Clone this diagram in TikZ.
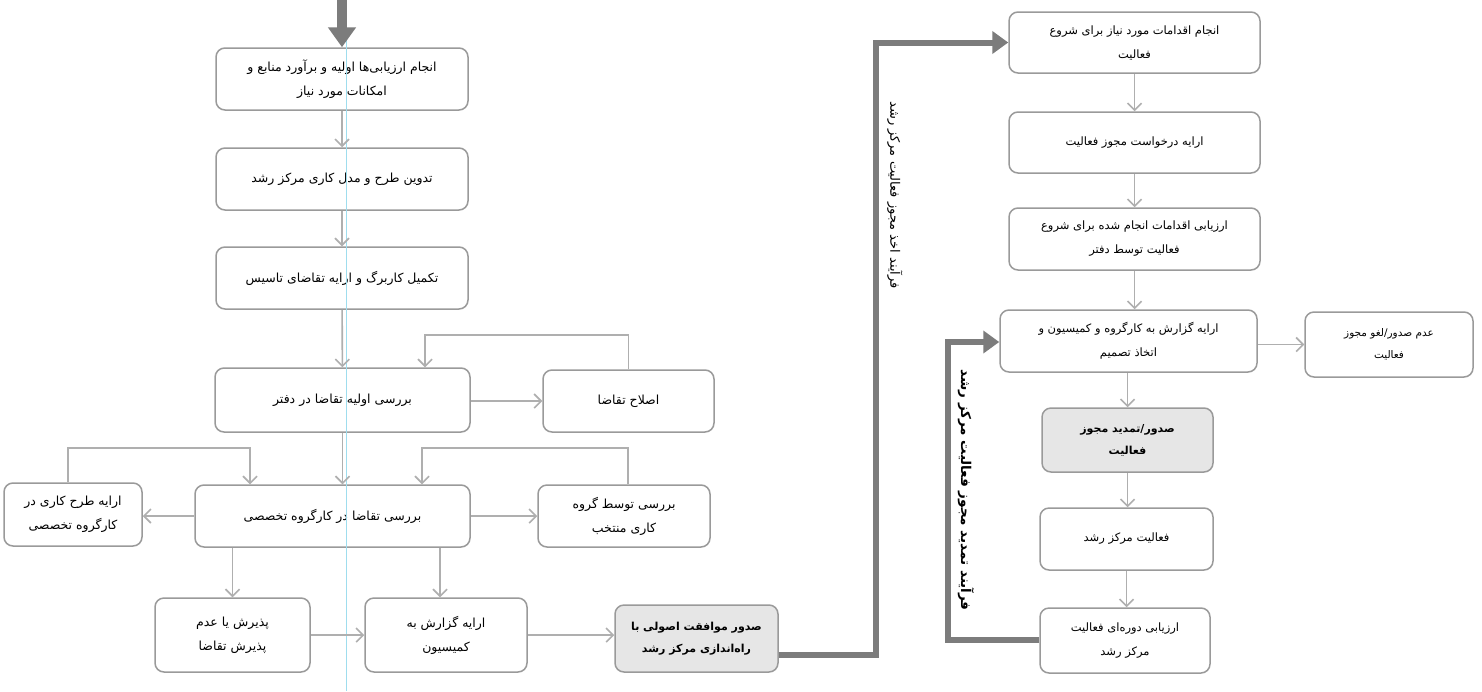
\documentclass[tikz,border=0pt]{standalone}
\usepackage{fontspec}
\newfontfamily\arabicfont[Script=Arabic]{DejaVu Sans}
\TeXXeTstate=1
\usetikzlibrary{arrows.meta}
\newcommand\faR[1]{\beginR #1\endR}
\definecolor{boxgray}{HTML}{9A9A9A}
\definecolor{arrgray}{HTML}{AFAFAF}
\definecolor{thickgray}{HTML}{7C7C7C}
\definecolor{shadegray}{HTML}{E6E6E6}
\definecolor{guidecyan}{HTML}{9FDDEE}
\begin{document}
\begin{tikzpicture}[x=1pt,y=-1pt,
  box/.style={draw=boxgray, line width=1.5pt, rounded corners=9pt, fill=white,
    font=\arabicfont\fontsize{12.5}{24}\selectfont, align=center, inner sep=2pt},
  rbox/.style={box, font=\arabicfont\fontsize{11.5}{24}\selectfont},
  shadebox/.style={box, fill=shadegray, font=\arabicfont\bfseries\fontsize{11}{22}\selectfont},
  arr/.style={draw=arrgray, line width=1.6pt,
    -{Straight Barb[length=7pt,width=14pt,line width=1.6pt]}},
  bigline/.style={draw=thickgray, line width=6pt, line join=miter,
    -{Triangle[length=16pt,width=22pt]}},
  vtext/.style={font=\arabicfont\fontsize{13}{15}\selectfont, inner sep=0pt},
]
\useasboundingbox (0,0) rectangle (1482,691);
\fill[white] (0,0) rectangle (1482,691);

% left column
\node[box, minimum width=252pt, minimum height=62pt] (a1) at (342,79)
  {\faR{انجام ارزیابی‌ها اولیه و  برآورد منابع و}\\\faR{امکانات مورد نیاز}};
\node[box, minimum width=252pt, minimum height=62pt] (a2) at (342,179)
  {\faR{تدوین طرح و مدل کاری مرکز رشد}};
\node[box, minimum width=252pt, minimum height=62pt] (a3) at (342,278)
  {\faR{تکمیل کاربرگ و ارایه تقاضای تاسیس}};
\node[box, minimum width=255pt, minimum height=64pt] (a4) at (342.5,400)
  {\faR{بررسی اولیه تقاضا در دفتر}};
\node[box, minimum width=171pt, minimum height=62pt] (fix) at (628.5,401)
  {\faR{اصلاح تقاضا}};
\node[box, minimum width=275pt, minimum height=62pt] (a5) at (332.5,516)
  {\faR{بررسی تقاضا در کارگروه تخصصی}};
\node[box, minimum width=138pt, minimum height=63pt] (lb) at (73,514.5)
  {\faR{ارایه طرح کاری در}\\\faR{کارگروه تخصصی}};
\node[box, minimum width=172pt, minimum height=62pt] (rb) at (624,516)
  {\faR{بررسی توسط گروه}\\\faR{کاری منتخب}};
\node[box, minimum width=155pt, minimum height=74pt] (pb) at (232.5,635)
  {\faR{پذیرش یا عدم}\\\faR{پذیرش تقاضا}};
\node[box, minimum width=162pt, minimum height=74pt] (kb) at (446,635)
  {\faR{ارایه گزارش به}\\\faR{کمیسیون}};
\node[shadebox, minimum width=163pt, minimum height=67pt] (sb) at (696.5,638.5)
  {\faR{صدور موافقت اصولی با}\\\faR{راه‌اندازی مرکز رشد}};

% right column
\node[rbox, minimum width=251pt, minimum height=61pt] (b1) at (1134.5,42.5)
  {\faR{انجام اقدامات مورد نیاز برای شروع}\\\faR{فعالیت}};
\node[rbox, minimum width=251pt, minimum height=61pt] (b2) at (1134.5,142.5)
  {\faR{ارایه درخواست مجوز فعالیت}};
\node[rbox, minimum width=251pt, minimum height=62pt] (b3) at (1134.5,239)
  {\faR{ارزیابی اقدامات انجام شده برای شروع}\\\faR{فعالیت توسط دفتر}};
\node[rbox, minimum width=257pt, minimum height=62pt] (b4) at (1128.5,341)
  {\faR{ارایه گزارش به کارگروه و کمیسیون و}\\\faR{اتخاذ تصمیم}};
\node[rbox, minimum width=168pt, minimum height=65pt, font=\arabicfont\fontsize{10.5}{22}\selectfont] (b5) at (1389,344.5)
  {\faR{عدم صدور/لغو مجوز}\\\faR{فعالیت}};
\node[shadebox, minimum width=171pt, minimum height=64pt] (b6) at (1127.5,440)
  {\faR{صدور/تمدید مجوز}\\\faR{فعالیت}};
\node[rbox, minimum width=173pt, minimum height=62pt] (b7) at (1126.5,539)
  {\faR{فعالیت مرکز رشد}};
\node[rbox, minimum width=170pt, minimum height=65pt] (b8) at (1125,640.5)
  {\faR{ارزیابی دوره‌ای فعالیت}\\\faR{مرکز رشد}};

% vertical labels
\node[vtext, rotate=-90] (v1) at (895,195) {\faR{فرآیند اخذ مجوز فعالیت مرکز رشد}};
\node[vtext, rotate=-90, font=\arabicfont\bfseries\fontsize{13.5}{15}\selectfont] (v2) at (966,490)
  {\faR{فرآیند تمدید مجوز فعالیت مرکز رشد}};

% coordinates
\coordinate (t0) at (342,0);
\coordinate (f1) at (628.5,335);
\coordinate (f2) at (425,335);
\coordinate (l1) at (68,448);
\coordinate (l2) at (250,448);
\coordinate (r1) at (628,448);
\coordinate (r2) at (422,448);
\coordinate (kx) at (440,0);
\coordinate (c1) at (876,655);
\coordinate (c2) at (876,42.5);
\coordinate (d1) at (948,640);
\coordinate (d2) at (948,342);
\coordinate (g0) at (346,0);
\coordinate (g1) at (346,691);

% guide line
\draw[guidecyan, line width=0.8pt] (g0) -- (g1);

% connectors left
\draw[draw=thickgray, line width=10pt, -{Triangle[length=20pt,width=27pt]}] (t0) -- (a1.north);
\draw[arr] (a1) -- (a2);
\draw[arr] (a2) -- (a3);
\draw[arr] (a3) -- (a4);
\draw[arr] (a4.east |- fix.west) -- (fix.west);
\draw[arr] (fix.north) -- (f1) -- (f2) -- (f2 |- a4.north);
\draw[arr] (a4.south) -- (a4.south |- a5.north);
\draw[arr] (a5.west) -- (a5.west -| lb.east);
\draw[arr] (a5.east) -- (a5.east -| rb.west);
\draw[arr] (lb.north -| l1) -- (l1) -- (l2) -- (l2 |- a5.north);
\draw[arr] (rb.north -| r1) -- (r1) -- (r2) -- (r2 |- a5.north);
\draw[arr] (a5.south -| pb) -- (pb.north);
\draw[arr] (a5.south -| kx) -- (kb.north -| kx);
\draw[arr] (pb.east) -- (pb.east -| kb.west);
\draw[arr] (kb.east) -- (kb.east -| sb.west);
\draw[bigline] (sb.east |- c1) -- (c1) -- (c2) -- (b1.west);

% connectors right
\draw[arr] (b1) -- (b2);
\draw[arr] (b2) -- (b3);
\draw[arr] (b3.south) -- (b3.south |- b4.north);
\draw[arr] (b6.north |- b4.south) -- (b6.north);
\draw[arr] (b6.south) -- (b6.south |- b7.north);
\draw[arr] (b7.south) -- (b7.south |- b8.north);
\draw[arr] (b4.east |- b5.west) -- (b5.west);
\draw[bigline] (b8.west |- d1) -- (d1) -- (d2) -- (b4.west |- d2);
\end{tikzpicture}
\end{document}
